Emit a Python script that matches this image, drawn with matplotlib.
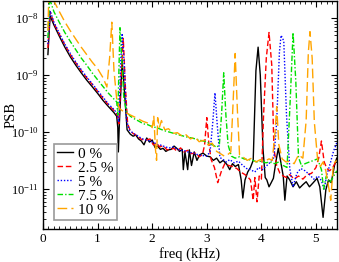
import numpy as np
import matplotlib
matplotlib.use("Agg")
import matplotlib.pyplot as plt
from matplotlib.ticker import MultipleLocator, FixedLocator, NullFormatter, LogFormatterMathtext

plt.rcParams['font.family'] = ['Liberation Serif', 'DejaVu Serif']
plt.rcParams['mathtext.fontset'] = 'custom'
plt.rcParams['mathtext.rm'] = 'Liberation Serif'
plt.rcParams['mathtext.it'] = 'Liberation Serif:italic'

labels = ["0 %", "2.5 %", "5 %", "7.5 %", "10 %"]
y_major = [1e-11, 1e-10, 1e-9, 1e-8]

# ---- 0 % ----
f_0 = [0.09, 0.13, 0.2, 0.3, 0.4, 0.5, 0.6, 0.7, 0.8, 0.9, 1.0, 1.1, 1.2, 1.3, 1.35, 1.37, 1.38,
       1.40, 1.45, 1.5, 1.54, 1.6, 1.65, 1.7, 1.75, 1.8, 1.85, 1.9, 1.95, 2.0, 2.05, 2.1, 2.15,
       2.2, 2.25, 2.3, 2.35, 2.4, 2.45, 2.5, 2.55, 2.57, 2.6, 2.65, 2.68, 2.72, 2.77, 2.82, 2.87,
       2.93, 3.0, 3.06, 3.12, 3.18, 3.24, 3.3, 3.37, 3.42, 3.47, 3.52, 3.58, 3.63, 3.66, 3.7,
       3.75, 3.8, 3.85, 3.9, 3.94, 3.98, 4.03, 4.07, 4.1, 4.14, 4.18, 4.22, 4.27, 4.31, 4.35,
       4.4, 4.43, 4.47, 4.52, 4.58, 4.64, 4.7, 4.76, 4.82, 4.88, 4.95, 5.02, 5.07, 5.13, 5.18,
       5.23, 5.28, 5.34, 5.38]
psb_0 = [2.3e-9, 1.1e-8, 7.6e-9, 4.8e-9, 3.1e-9, 2.1e-9, 1.5e-9, 1.1e-9, 8.2e-10, 6.3e-10,
         4.8e-10, 3.6e-10, 2.8e-10, 2.2e-10, 1.9e-10, 1.2e-10, 4.5e-11,
         1.5e-10, 1.8e-9, 4.0e-10, 1.1e-10, 9.2e-11, 8.5e-11, 8.9e-11, 7.6e-11, 7.0e-11, 6.0e-11,
         7.9e-11, 6.7e-11, 7.3e-11, 5.4e-11, 5.7e-11, 5.0e-11,
         5.2e-11, 4.6e-11, 4.9e-11, 5.0e-11, 5.7e-11, 5.2e-11, 4.6e-11, 5.0e-11, 2.2e-11, 4.5e-11,
         2.2e-11, 4.9e-11, 2.6e-11, 4.5e-11, 3.2e-11, 4.0e-11,
         4.3e-11, 3.8e-11, 3.7e-11, 3.2e-11, 3.5e-11, 2.9e-11, 3.2e-11, 2.7e-11, 2.2e-11, 2.8e-11,
         2.5e-11, 2.7e-11, 1.45e-11, 7.0e-12, 1.45e-11,
         2.0e-11, 2.4e-11, 3.2e-11, 1.2e-9, 3.1e-9, 1.0e-9, 5.0e-11, 1.6e-11, 1.45e-11, 1.1e-11,
         1.3e-11, 1.55e-11, 3.2e-11, 5.2e-11, 3.2e-11,
         1.7e-11, 6.4e-12, 1.7e-11, 1.45e-11, 1.1e-11, 1.35e-11, 1.05e-11, 1.2e-11, 1.35e-11,
         1.1e-11, 1.3e-11, 1.55e-11, 1.1e-11, 3.2e-12, 9.7e-12,
         1.45e-11, 1.3e-11, 2.65e-11, 3.5e-11]

# ---- 2.5 % ----
f_25 = [0.09, 0.13, 0.2, 0.3, 0.4, 0.5, 0.6, 0.7, 0.8, 0.9, 1.0, 1.1, 1.2, 1.3, 1.36, 1.39,
        1.43, 1.47, 1.51, 1.55, 1.6, 1.65, 1.72, 1.8, 1.87, 1.96, 2.02, 2.08, 2.14, 2.2, 2.27,
        2.33, 2.4, 2.45, 2.52, 2.58, 2.65, 2.72, 2.8, 2.86, 2.92, 2.96, 3.0, 3.04, 3.08, 3.14,
        3.2, 3.27, 3.33, 3.4, 3.47, 3.55, 3.62, 3.7, 3.76, 3.8, 3.85, 3.88, 3.92, 3.96, 4.0,
        4.04, 4.09, 4.14, 4.19, 4.23, 4.28, 4.34, 4.4, 4.46, 4.52, 4.6, 4.68, 4.76, 4.84, 4.92,
        5.0, 5.05, 5.1, 5.15, 5.2, 5.25, 5.31, 5.38]
psb_25 = [3.0e-9, 1.3e-8, 8.2e-9, 5.2e-9, 3.4e-9, 2.3e-9, 1.65e-9, 1.2e-9, 9.0e-10, 6.9e-10,
          5.2e-10, 3.9e-10, 3.0e-10, 2.4e-10, 2.0e-10, 1.4e-10,
          9.0e-10, 4.4e-9, 6.0e-10, 1.4e-10, 1.05e-10, 9.5e-11, 8.6e-11, 7.5e-11, 7.2e-11, 7.6e-11,
          6.0e-11, 6.4e-11, 5.5e-11, 5.8e-11, 4.9e-11,
          5.0e-11, 5.2e-11, 4.6e-11, 5.3e-11, 4.5e-11, 4.8e-11, 4.2e-11, 4.3e-11, 3.7e-11, 4.0e-11,
          6.0e-11, 1.8e-10, 6.0e-11, 3.3e-11, 2.4e-11,
          1.3e-11, 2.1e-11, 2.8e-11, 2.6e-11, 2.5e-11, 2.3e-11, 2.0e-11, 1.8e-11, 1.6e-11, 1.45e-11,
          6.4e-12, 1.6e-11, 6.0e-12, 1.7e-11, 1.5e-11,
          2.0e-10, 2.0e-9, 5.6e-9, 1.5e-9, 5.0e-11, 2.6e-11, 1.9e-11, 1.7e-11, 1.6e-11, 1.8e-11,
          1.5e-11, 1.7e-11, 1.5e-11, 1.8e-11, 1.9e-11,
          2.4e-11, 3.5e-11, 7.0e-11, 3.0e-11, 2.3e-11, 2.1e-11, 2.4e-11, 3.3e-11]

# ---- 5 % ----
f_5 = [0.09, 0.13, 0.2, 0.3, 0.4, 0.5, 0.6, 0.7, 0.8, 0.9, 1.0, 1.1, 1.2, 1.3, 1.36, 1.39,
       1.42, 1.45, 1.49, 1.53, 1.58, 1.65, 1.72, 1.8, 1.88, 1.96, 2.03, 2.1, 2.17, 2.24, 2.31,
       2.38, 2.45, 2.52, 2.6, 2.68, 2.76, 2.84, 2.92, 3.0, 3.06, 3.11, 3.15, 3.19, 3.24, 3.3,
       3.36, 3.42, 3.5, 3.58, 3.66, 3.73, 3.8, 3.88, 3.95, 4.02, 4.1, 4.17, 4.23, 4.28, 4.33,
       4.36, 4.41, 4.46, 4.52, 4.58, 4.65, 4.72, 4.8, 4.88, 4.96, 5.04, 5.1, 5.15, 5.2, 5.26,
       5.32, 5.38]
psb_5 = [3.5e-9, 1.35e-8, 8.5e-9, 5.4e-9, 3.5e-9, 2.4e-9, 1.7e-9, 1.25e-9, 9.3e-10, 7.1e-10,
         5.4e-10, 4.1e-10, 3.1e-10, 2.5e-10, 2.1e-10, 1.5e-10,
         1.5e-9, 5.4e-9, 1.5e-9, 1.6e-10, 1.1e-10, 9.6e-11, 8.8e-11, 7.8e-11, 7.3e-11, 7.0e-11,
         6.6e-11, 6.0e-11, 5.9e-11, 5.5e-11, 5.3e-11,
         5.5e-11, 5.1e-11, 4.8e-11, 4.7e-11, 4.4e-11, 4.3e-11, 4.0e-11, 3.9e-11, 3.8e-11, 4.5e-11,
         1.5e-10, 4.9e-10, 1.4e-10, 3.6e-11, 3.3e-11,
         3.0e-11, 3.3e-11, 2.9e-11, 3.1e-11, 2.6e-11, 2.3e-11, 2.2e-11, 2.0e-11, 2.4e-11, 2.2e-11,
         2.6e-11, 3.0e-11, 3.6e-11, 1.5e-10, 2.5e-9,
         5.0e-9, 4.0e-9, 2.0e-10, 2.3e-11, 1.1e-11, 1.9e-11, 2.3e-11, 2.1e-11, 1.8e-11, 1.5e-11,
         1.7e-11, 1.4e-11, 1.0e-11, 1.8e-11, 2.8e-11,
         4.6e-11, 6.5e-11]

# ---- 7.5 % ----
f_75 = [0.09, 0.12, 0.2, 0.3, 0.4, 0.5, 0.6, 0.7, 0.8, 0.9, 1.0, 1.1, 1.2, 1.3, 1.35, 1.37,
        1.41, 1.45, 1.48, 1.53, 1.6, 1.68, 1.76, 1.84, 1.92, 2.0, 2.08, 2.16, 2.24, 2.32, 2.4,
        2.48, 2.56, 2.64, 2.72, 2.8, 2.88, 2.96, 3.04, 3.12, 3.18, 3.23, 3.27, 3.31, 3.35, 3.39,
        3.45, 3.52, 3.6, 3.68, 3.76, 3.84, 3.92, 4.0, 4.08, 4.16, 4.24, 4.32, 4.4, 4.47, 4.53,
        4.58, 4.63, 4.68, 4.74, 4.8, 4.88, 4.96, 5.03, 5.1, 5.14, 5.19, 5.25, 5.31, 5.38]
psb_75 = [4.5e-9, 2.2e-8, 1.3e-8, 8.4e-9, 5.6e-9, 3.9e-9, 2.8e-9, 2.0e-9, 1.5e-9, 1.1e-9,
          8.3e-10, 6.3e-10, 4.8e-10, 3.8e-10, 3.4e-10, 2.0e-10,
          6.8e-9, 1.5e-9, 4.0e-10, 2.3e-10, 1.9e-10, 1.7e-10, 1.55e-10, 1.4e-10, 1.35e-10, 1.25e-10,
          1.2e-10, 1.12e-10, 1.05e-10, 1.0e-10, 9.5e-11,
          9.0e-11, 8.6e-11, 8.2e-11, 7.9e-11, 7.6e-11, 7.2e-11, 6.9e-11, 6.4e-11, 5.9e-11, 5.4e-11,
          6.0e-11, 2.0e-10, 1.1e-9, 2.0e-10, 6.0e-11,
          3.8e-11, 3.5e-11, 3.7e-11, 3.4e-11, 3.3e-11, 3.2e-11, 3.0e-11, 3.1e-11, 2.9e-11, 3.0e-11,
          2.8e-11, 3.0e-11, 2.6e-11, 2.4e-11, 4.0e-10,
          5.6e-9, 8.0e-10, 3.6e-11, 2.5e-11, 2.8e-11, 3.0e-11, 3.2e-11, 3.4e-11, 2.2e-11, 1.0e-11,
          1.7e-11, 1.3e-11, 1.6e-11, 2.1e-11]

# ---- 10 % ----
f_10 = [0.09, 0.11, 0.2, 0.3, 0.4, 0.5, 0.6, 0.7, 0.8, 0.9, 1.0, 1.1, 1.17, 1.22, 1.26, 1.3,
        1.35, 1.4, 1.5, 1.6, 1.7, 1.83, 1.96, 2.0, 2.03, 2.06, 2.08, 2.1, 2.13, 2.17, 2.23, 2.3,
        2.38, 2.46, 2.55, 2.62, 2.7, 2.78, 2.86, 2.94, 3.02, 3.1, 3.18, 3.25, 3.32, 3.38, 3.44,
        3.48, 3.52, 3.56, 3.6, 3.66, 3.74, 3.82, 3.9, 3.98, 4.06, 4.14, 4.2, 4.25, 4.28, 4.32,
        4.38, 4.45, 4.52, 4.6, 4.68, 4.76, 4.82, 4.86, 4.89, 4.93, 4.97, 5.03, 5.08, 5.13, 5.18,
        5.22, 5.27, 5.32, 5.38]
psb_10 = [6.0e-9, 3.5e-8, 2.0e-8, 1.3e-8, 8.6e-9, 6.0e-9, 4.3e-9, 3.1e-9, 2.3e-9, 1.7e-9,
          1.3e-9, 9.0e-10, 6.2e-10, 2.0e-9, 8.5e-9, 1.2e-9,
          3.8e-10, 2.6e-10, 2.2e-10, 2.0e-10, 1.8e-10, 1.55e-10, 1.4e-10, 1.2e-10, 1.9e-10, 5.0e-11,
          3.2e-11, 1.8e-10, 1.2e-10, 1.6e-10, 1.1e-10, 1.15e-10,
          9.5e-11, 9.8e-11, 8.5e-11, 9.0e-11, 7.6e-11, 8.2e-11, 6.8e-11, 7.2e-11, 6.0e-11, 6.4e-11,
          4.6e-11, 4.2e-11, 3.8e-11, 4.0e-11, 4.5e-11,
          3.0e-10, 2.4e-9, 2.5e-10, 4.0e-11, 3.7e-11, 3.2e-11, 3.5e-11, 3.0e-11, 3.3e-11, 3.1e-11,
          3.4e-11, 3.2e-11, 1.0e-10, 2.8e-10, 6.0e-11,
          3.4e-11, 3.0e-11, 3.1e-11, 2.8e-11, 4.0e-11, 3.5e-11, 1.6e-10, 2.5e-9, 5.8e-9, 2.0e-9,
          1.5e-10, 3.3e-11, 2.5e-11, 3.0e-11, 2.1e-11,
          1.3e-11, 6.4e-12, 2.8e-11, 3.2e-11]

series = [
    (f_0, psb_0, "black", "-"),
    (f_25, psb_25, "#ff0000", (0, (4, 2))),
    (f_5, psb_5, "#0000ff", (0, (1, 1.3))),
    (f_75, psb_75, "#00e000", (0, (4, 1.5, 1, 1.5))),
    (f_10, psb_10, "#ffa500", (0, (7, 3))),
]

fig = plt.figure(figsize=(3.39, 2.62), dpi=100)
ax = fig.add_axes([43/339, 1 - 229/262, 294/339, 228/262])

for (f, p, c, ls), lab in zip(series, labels):
    ax.plot(f, p, color=c, linestyle=ls, linewidth=1.0, label=lab)

ax.set_yscale('log')
ax.set_xlim(0, 5.385)
ax.set_ylim(2e-12, 2e-8)
ax.xaxis.set_major_locator(FixedLocator([0, 1, 2, 3, 4, 5]))
ax.xaxis.set_minor_locator(MultipleLocator(0.1))
ax.yaxis.set_major_locator(FixedLocator(y_major))
ax.yaxis.set_major_formatter(LogFormatterMathtext())
minor_y = [m * 10.0**e for e in range(-12, -7) for m in range(2, 10)
           if 2e-12 <= m * 10.0**e <= 2e-8]
ax.yaxis.set_minor_locator(FixedLocator(minor_y))
ax.yaxis.set_minor_formatter(NullFormatter())
ax.tick_params(which='both', direction='in', top=True, right=True, labelsize=9, pad=3)
ax.tick_params(axis='x', labelsize=9.5)
ax.tick_params(which='major', length=4, width=0.8)
ax.tick_params(which='minor', length=2, width=0.6)
for s in ax.spines.values():
    s.set_linewidth(1.0)

ax.set_xlabel("freq (kHz)", fontsize=10.5, labelpad=1)
ax.set_ylabel("PSB", fontsize=10.5)
ax.yaxis.set_label_coords(-0.085, 0.5)

leg = ax.legend(loc='lower left', bbox_to_anchor=(0.037, 0.04), borderaxespad=0,
                fontsize=11, frameon=True, fancybox=False, handlelength=1.05,
                handletextpad=0.35, labelspacing=0.02, borderpad=0.2)
leg.get_frame().set_edgecolor('#999999')
leg.get_frame().set_linewidth(1.2)
leg.get_frame().set_alpha(1)

fig.savefig("out.png", dpi=100)
